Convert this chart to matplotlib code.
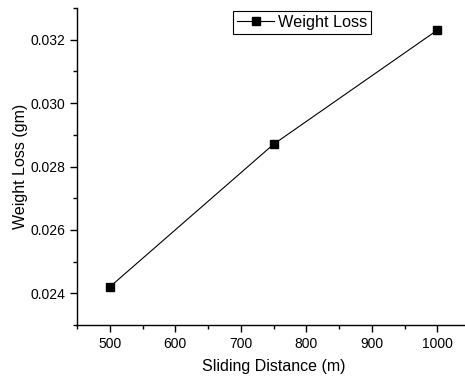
import matplotlib
matplotlib.use("Agg")
import matplotlib.pyplot as plt
from matplotlib.ticker import MultipleLocator

plt.rcParams['font.family'] = ['Liberation Sans', 'DejaVu Sans']

distance = [500, 750, 1000]
weight_loss = [0.0242, 0.0287, 0.0323]

fig = plt.figure(figsize=(4.65, 3.78), dpi=100)
ax = fig.add_axes([77/465, 1 - 325/378, (470 - 77)/465, (325 - 8)/378])

ax.plot(distance, weight_loss, color='black', lw=0.8, marker='s',
        markersize=5.2, label='Weight Loss')

ax.set_xlim(450, 1050)
ax.set_ylim(0.023, 0.033)
ax.xaxis.set_major_locator(MultipleLocator(100))
ax.xaxis.set_minor_locator(MultipleLocator(50))
ax.yaxis.set_major_locator(MultipleLocator(0.002))
ax.yaxis.set_minor_locator(MultipleLocator(0.001))

for s in ['top', 'right']:
    ax.spines[s].set_visible(False)
for s in ['left', 'bottom']:
    ax.spines[s].set_linewidth(1.0)

ax.tick_params(which='major', direction='out', length=5, width=1, labelsize=10)
ax.tick_params(which='minor', direction='out', length=3, width=1)

ax.set_xlabel('Sliding Distance (m)', fontsize=11.5, labelpad=6)
ax.set_ylabel('Weight Loss (gm)', fontsize=11.5, labelpad=2)

leg = ax.legend(loc='upper left', bbox_to_anchor=(233/465, 1 - 11/378),
                bbox_transform=fig.transFigure, fontsize=11.7, frameon=True,
                fancybox=False, edgecolor='black', framealpha=1,
                handlelength=2.3, handletextpad=0.2, borderpad=0.25,
                borderaxespad=0)
leg.get_frame().set_linewidth(0.8)

fig.savefig('out.png', dpi=100)
